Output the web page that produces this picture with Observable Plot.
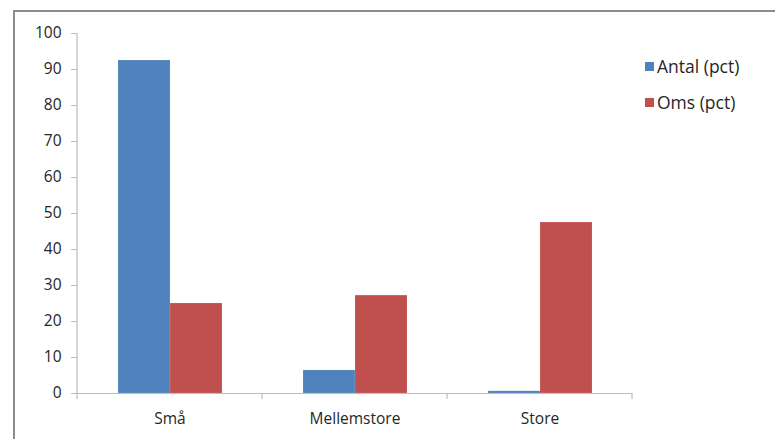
<!DOCTYPE html>
<html>
<head>
<meta charset="utf-8">
<script src="https://cdn.jsdelivr.net/npm/d3@7"></script>
<script src="https://cdn.jsdelivr.net/npm/@observablehq/plot@0.6"></script>
<style>
  html, body { margin: 0; padding: 0; background: #fff; }
  #wrap { position: relative; width: 775px; height: 439px; overflow: hidden; font-family: "Open Sans", sans-serif; }
  #border { position: absolute; left: 13px; top: 10px; right: -5px; bottom: -5px; border-left: 2px solid #8c8c8c; border-top: 2px solid #8c8c8c; }
  #legend { position: absolute; left: 645px; top: 53px; font-size: 17.5px; color: #262626; }
  .item { display: flex; align-items: center; height: 26px; margin-bottom: 10px; }
  .sw { width: 9px; height: 9px; margin-right: 3px; }
  #chart { position: absolute; left: 0; top: 0; }
</style>
</head>
<body>
<div id="wrap">
  <div id="chart"></div>
  <div id="border"></div>
  <div id="legend"></div>
</div>
<script>
const categories = ["Små", "Mellemstore", "Store"];
const series = ["Antal (pct)", "Oms (pct)"];
const antal = [92.5, 6.4, 0.6];
const oms = [25.0, 27.2, 47.5];
const yTicks = [0, 10, 20, 30, 40, 50, 60, 70, 80, 90, 100];
const colors = ["#4F81BD", "#C0504D"];

const data = [];
categories.forEach((c, i) => {
  data.push({cat: c, series: series[0], value: antal[i]});
  data.push({cat: c, series: series[1], value: oms[i]});
});

const plot = Plot.plot({
  width: 775,
  height: 439,
  marginLeft: 76,
  marginRight: 142,
  marginTop: 33,
  marginBottom: 46,
  style: {fontFamily: "Open Sans, sans-serif", fontSize: "15px", color: "#262626", background: "transparent"},
  fx: {domain: categories, padding: 0, label: null},
  x: {domain: series, paddingInner: 0, paddingOuter: 0.75, axis: null},
  y: {domain: [0, 100], label: null},
  color: {domain: series, range: colors},
  marks: [
    Plot.barY(data, {fx: "cat", x: "series", y: "value", fill: "series", stroke: "#ffffff", strokeOpacity: 0.25, strokeWidth: 0.5}),
    Plot.ruleY([0], {stroke: "#bdbdbd", strokeWidth: 1.2}),
    Plot.axisY({ticks: yTicks, tickSize: 6, tickPadding: 10, stroke: "#bdbdbd", fill: "#262626", fontSize: 15.5, label: null}),
    Plot.axisFx({anchor: "bottom", tickSize: 0, tickPadding: 19, fontSize: 15.5, fill: "#262626", label: null})
  ]
});

document.getElementById("chart").appendChild(plot);

// axis line and category boundary ticks, from the plot's own scales
const fx = plot.scale("fx");
const y = plot.scale("y");
const svg = d3.select(plot);
const y0 = y.apply(0), y100 = y.apply(100);
const left = fx.apply(categories[0]);
svg.append("line")
  .attr("x1", left).attr("x2", left)
  .attr("y1", y100).attr("y2", y0)
  .attr("stroke", "#bdbdbd").attr("stroke-width", 1.2);
const bounds = categories.map(c => fx.apply(c));
bounds.push(fx.apply(categories[categories.length - 1]) + fx.bandwidth);
svg.selectAll("line.bt").data(bounds).join("line")
  .attr("class", "bt")
  .attr("x1", d => d).attr("x2", d => d)
  .attr("y1", y0).attr("y2", y0 + 6)
  .attr("stroke", "#bdbdbd").attr("stroke-width", 1.2);

// legend
const legend = d3.select("#legend");
series.forEach((s, i) => {
  const it = legend.append("div").attr("class", "item");
  it.append("div").attr("class", "sw").style("background", colors[i]);
  it.append("span").text(s);
});
</script>
</body>
</html>
